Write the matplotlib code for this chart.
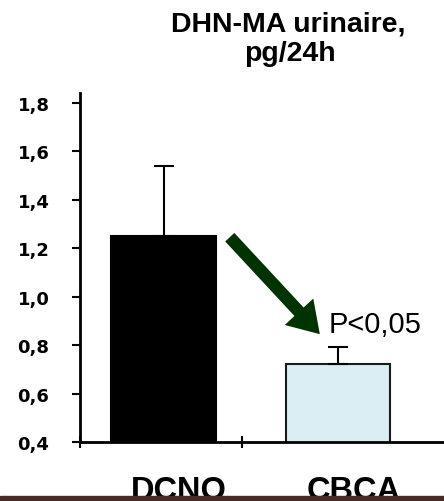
import matplotlib.pyplot as plt
from matplotlib.patches import Rectangle

# data
groups = ["DCNO", "CBCA"]
means = [1.25, 0.72]
errors = [0.29, 0.07]
colors = ["#000000", "#daeef3"]
edges = ["#000000", "#1a1a1a"]
yticks = [0.4, 0.6, 0.8, 1.0, 1.2, 1.4, 1.6, 1.8]
ytick_labels = ["0,4", "0,6", "0,8", "1,0", "1,2", "1,4", "1,6", "1,8"]

fig = plt.figure(figsize=(4.44, 5.02), dpi=100)
ax = fig.add_axes([80 / 444, 1 - 443 / 502, 364 / 444, (443 - 94) / 502])

x = list(range(len(groups)))
ax.bar(x, means, width=0.6, color=colors, edgecolor=edges, linewidth=1.5, zorder=2)
ax.errorbar(x, means, yerr=[[0, 0], errors], fmt="none", ecolor="black",
            elinewidth=1.5, capsize=7, capthick=1.5, zorder=3)

ax.set_ylim(0.4, 1.84)
ax.set_xlim(-0.48, 1.61)
ax.set_yticks(yticks)
ax.set_yticklabels(ytick_labels, fontsize=13, fontweight="bold", fontfamily="DejaVu Sans")
ax.set_xticks([-0.48, 0.45])
ax.set_xticklabels(["", ""])
ax.tick_params(axis="y", direction="out", length=6, width=1.5, pad=16)
ax.tick_params(axis="x", direction="inout", length=8, width=1.5)

for s in ["top", "right"]:
    ax.spines[s].set_visible(False)
ax.spines["left"].set_linewidth(2)
ax.spines["bottom"].set_linewidth(2)

# category labels below the axis (partly hidden by the bottom strip)
for xi, g in zip(x, groups):
    ax.text(xi + 0.09, -0.163, g, transform=ax.get_xaxis_transform(),
            ha="center", va="baseline", fontsize=23.5, fontweight="bold",
            fontfamily="Liberation Sans")

# title, two lines
fig.text(288 / 444, 1 - 32 / 502, "DHN-MA urinaire,", ha="center", va="baseline",
         fontsize=20.5, fontweight="bold", fontfamily="Liberation Sans")
fig.text(290 / 444, 1 - 61 / 502, "pg/24h", ha="center", va="baseline",
         fontsize=20.5, fontweight="bold", fontfamily="Liberation Sans")

# green arrow and significance
ax.annotate("", xy=(0.897, 0.845), xytext=(0.38, 1.245),
            arrowprops=dict(arrowstyle="simple,head_length=1.1,head_width=1.4,tail_width=0.45",
                            mutation_scale=20, color="#003300", lw=0,
                            shrinkA=0, shrinkB=0))
ax.text(0.95, 0.854, "P<0,05", fontsize=21, fontfamily="Liberation Sans", va="baseline")

# dark strip at the bottom edge
fig.patches.append(Rectangle((0, 0), 1, 5 / 502, transform=fig.transFigure,
                             color="#4a2a26", zorder=10))

fig.savefig("out.png", dpi=100)
